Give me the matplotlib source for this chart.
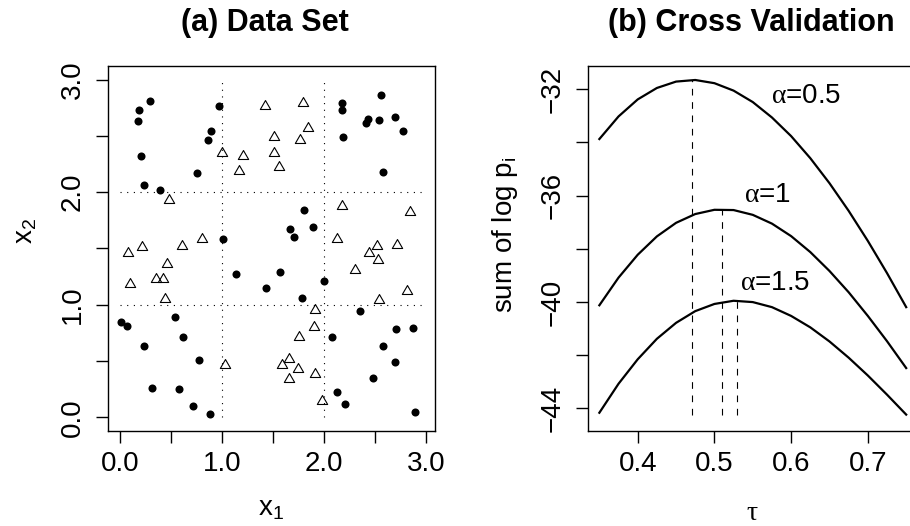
import matplotlib
matplotlib.use("Agg")
import matplotlib.pyplot as plt
from matplotlib.path import Path

plt.rcParams['font.family'] = ['Liberation Sans', 'DejaVu Sans']
plt.rcParams['mathtext.fontset'] = 'custom'
plt.rcParams['mathtext.rm'] = 'Liberation Sans'
plt.rcParams['mathtext.it'] = 'Liberation Sans'
plt.rcParams['mathtext.bf'] = 'Liberation Sans:bold'
plt.rcParams['mathtext.sf'] = 'Liberation Serif'  # greek letters like R's symbol font

# ---- (a) data set: two classes ----
circ_x1 = [0.29, 0.19, 0.18, 0.21, 0.24, 0.39, 0.97, 0.89, 0.86, 0.76, 1.01,
           2.18, 2.18, 2.56, 2.43, 2.415, 2.54, 2.70, 2.78, 2.19, 2.58,
           1.81, 1.89, 1.67, 1.71,
           1.57, 1.43, 1.79, 2.00, 1.14,
           2.35, 2.71, 2.87, 2.08, 2.58, 2.70, 2.48, 2.13, 2.21, 2.89,
           0.01, 0.066, 0.54, 0.62, 0.24, 0.78, 0.31, 0.58, 0.72, 0.885]
circ_x2 = [2.81, 2.73, 2.63, 2.32, 2.06, 2.02, 2.765, 2.54, 2.46, 2.17, 1.58,
           2.79, 2.73, 2.86, 2.645, 2.615, 2.64, 2.67, 2.54, 2.49, 2.18,
           1.84, 1.69, 1.67, 1.60,
           1.29, 1.145, 1.06, 1.21, 1.27,
           0.94, 0.78, 0.79, 0.71, 0.63, 0.49, 0.35, 0.22, 0.12, 0.044,
           0.85, 0.81, 0.89, 0.71, 0.63, 0.51, 0.26, 0.25, 0.10, 0.027]

tri_x1 = [0.48, 1.00, 1.21, 1.17, 0.80, 0.61, 0.22,
          1.42, 1.80, 1.84, 1.51, 1.77, 1.51, 1.56,
          2.18, 2.84, 2.13,
          2.52, 2.72, 2.44, 2.53, 2.31, 2.82, 2.54,
          1.915, 1.905, 1.76, 1.66, 1.59, 1.75, 1.66, 1.91, 1.98,
          0.08, 0.46, 0.35, 0.42, 0.095, 0.44, 1.03]
tri_x2 = [1.93, 2.35, 2.32, 2.19, 1.585, 1.52, 1.51,
          2.765, 2.79, 2.57, 2.49, 2.46, 2.35, 2.22,
          1.88, 1.82, 1.585,
          1.52, 1.53, 1.455, 1.40, 1.31, 1.12, 1.04,
          0.95, 0.80, 0.715, 0.52, 0.46, 0.43, 0.34, 0.38, 0.14,
          1.455, 1.36, 1.23, 1.23, 1.18, 1.05, 0.46]

cuts = [1, 2]
cut_range = [0, 3]

# ---- (b) cross validation curves ----
tau = [0.35, 0.375, 0.40, 0.425, 0.45, 0.475, 0.50, 0.525, 0.55,
       0.575, 0.60, 0.625, 0.65, 0.675, 0.70, 0.725, 0.75]
cv_a05 = [-33.87, -33.02, -32.38, -31.95, -31.71, -31.65, -31.77, -32.05, -32.48,
          -33.06, -33.76, -34.59, -35.53, -36.57, -37.70, -38.91, -40.19]
cv_a10 = [-40.12, -39.08, -38.22, -37.53, -37.02, -36.69, -36.53, -36.54, -36.72,
          -37.05, -37.52, -38.12, -38.83, -39.63, -40.52, -41.47, -42.48]
cv_a15 = [-44.16, -43.07, -42.15, -41.38, -40.78, -40.34, -40.07, -39.95, -40.00,
          -40.19, -40.52, -40.95, -41.48, -42.09, -42.76, -43.48, -44.23]
tau_best = [0.4704, 0.5105, 0.530]
cv_best = [-31.65, -36.51, -39.95]
alpha_labels = [r'$\mathsf{\alpha}$=0.5', r'$\mathsf{\alpha}$=1', r'$\mathsf{\alpha}$=1.5']

W, H = 910, 526
fig = plt.figure(figsize=(W / 100, H / 100), dpi=100)

def px_box(left, top, width, height):
    return [left / W, 1 - (top + height) / H, width / W, height / H]

ax1 = fig.add_axes(px_box(107.7, 66, 327.3, 364.7))
ax2 = fig.add_axes(px_box(587.7, 66, 331.3, 364.7))

# triangle like R pch=2 (centroid at the point)
tri = Path([(0, 1.555), (1.347, -0.778), (-1.347, -0.778), (0, 1.555)],
           [Path.MOVETO, Path.LINETO, Path.LINETO, Path.CLOSEPOLY])

for c in cuts:
    ax1.plot([c, c], cut_range, color='black', lw=0.8, ls=(0, (1, 5)))
    ax1.plot(cut_range, [c, c], color='black', lw=0.8, ls=(0, (1, 5)))
ax1.plot(circ_x1, circ_x2, 'o', color='black', ms=5.8, mew=0, ls='none')
ax1.plot(tri_x1, tri_x2, marker=tri, ms=8.6, mfc='none', mec='black',
         mew=0.8, ls='none')

ax1.set_xlim(-0.12, 3.09)
ax1.set_ylim(-0.12, 3.12)
ticks = [0, 0.5, 1, 1.5, 2, 2.5, 3]
tick_lab = ['0.0', '', '1.0', '', '2.0', '', '3.0']
ax1.set_xticks(ticks)
ax1.set_xticklabels(tick_lab)
ax1.set_yticks(ticks)
ax1.set_yticklabels(tick_lab)

for cv in (cv_a05, cv_a10, cv_a15):
    ax2.plot(tau, cv, color='black', lw=1.6)
lo = min(cv_a05 + cv_a10 + cv_a15)
for t, v in zip(tau_best, cv_best):
    ax2.plot([t, t], [lo, v], color='black', lw=0.8, ls=(0, (6, 6)))

label_pos = [(0.6194, -32.52), (0.5686, -36.23), (0.5797, -39.55)]
for (x, y), s in zip(label_pos, alpha_labels):
    ax2.text(x, y, s, ha='center', va='baseline', fontsize=20)

ax2.set_xlim(0.3348, 0.7667)
ax2.set_ylim(-44.835, -31.124)
ax2.set_xticks([0.4, 0.5, 0.6, 0.7])
ax2.set_xticklabels(['0.4', '0.5', '0.6', '0.7'])
ax2.set_yticks([-44, -42, -40, -38, -36, -34, -32])
ax2.set_yticklabels(['\u221244', '', '\u221240', '', '\u221236', '', '\u221232'])

for ax in (ax1, ax2):
    for sp in ax.spines.values():
        sp.set_linewidth(1.0)
    ax.tick_params(direction='out', length=8.6, width=1.0, labelsize=20)
    ax.tick_params(axis='x', pad=6)
    ax.tick_params(axis='y', pad=7)
    for lab in ax.get_yticklabels():
        lab.set_rotation(90)
        lab.set_va('center')

def ftext(x, y, s, **kw):
    fig.text(x / W, 1 - y / H, s, **kw)

ftext(265, 23, '(a) Data Set', ha='center', va='center', fontsize=22,
      fontweight='bold')
ftext(751, 23, '(b) Cross Validation', ha='center', va='center', fontsize=22,
      fontweight='bold')
ftext(271, 516, r'x$_\mathrm{1}$', ha='center', va='baseline', fontsize=20)
ftext(752, 520, r'$\mathsf{\tau}$', ha='center', va='baseline', fontsize=20)
ftext(32.5, 231, r'x$_\mathrm{2}$', ha='center', va='baseline', fontsize=20,
      rotation=90, rotation_mode='anchor')
ftext(512.5, 235, r'sum of log p$_\mathrm{i}$', ha='center', va='baseline',
      fontsize=20, rotation=90, rotation_mode='anchor')

fig.savefig('out.png', dpi=100)
